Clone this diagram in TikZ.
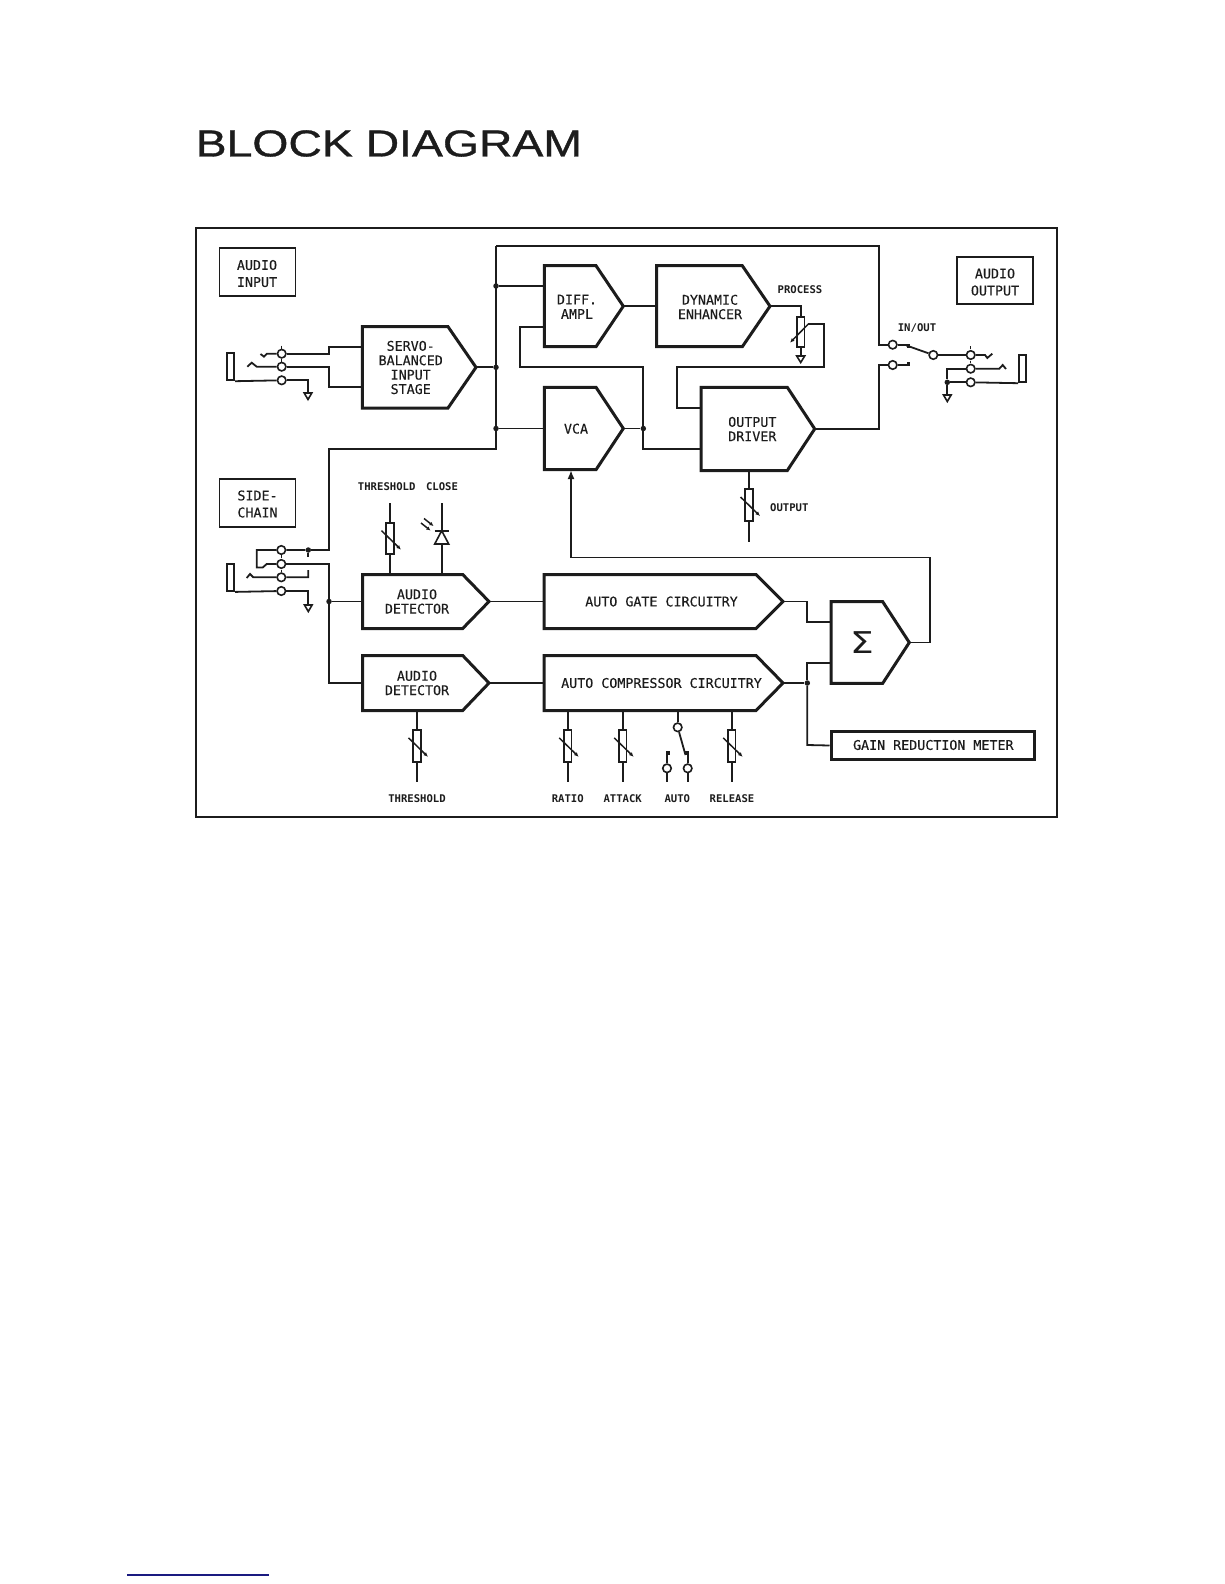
\documentclass[tikz,border=0pt]{standalone}
\usepackage{fontspec}
\usetikzlibrary{arrows.meta,fit}
\setmainfont{Liberation Sans}
\newfontfamily\titlefont[FakeBold=0.8]{Liberation Sans}
\newfontfamily\plotfont[FakeBold=0.25]{DejaVu Sans Mono}
\newfontfamily\plotboldfont{DejaVu Sans Mono Bold}
\newfontfamily\sigmafont{DejaVu Sans}
\definecolor{ink}{HTML}{1C1C1C}
\definecolor{rulenavy}{HTML}{1A1A80}
\tikzset{
  x=1pt,y=-1pt,
  wire/.style={draw=ink,line width=1.8pt,line join=miter},
  thick block/.style={draw=ink,line width=3pt,line join=miter},
  plain box/.style={draw=ink,line width=1.8pt,inner sep=0pt},
  big label/.style={text=ink,font=\plotfont\fontsize{13.33}{14.4}\selectfont,align=center,inner sep=0pt},
  small label/.style={text=ink,font=\plotboldfont\fontsize{10.6}{12}\selectfont,inner sep=0pt},
  contact/.style={circle,draw=ink,line width=1.6pt,fill=white,minimum size=8.5pt,inner sep=0pt},
  junction/.style={circle,fill=ink,minimum size=5.5pt,inner sep=0pt},
  potbody/.style={rectangle,draw=ink,line width=1.7pt,fill=white,minimum width=7.5pt,inner sep=0pt},
  wiper/.style={draw=ink,line width=1.5pt,-{Latex[length=4.5pt,width=4pt]}},
  gnd/.style={draw=ink,line width=1.6pt,fill=white},
  contactblob/.style={rectangle,fill=ink,minimum width=3pt,minimum height=4pt,inner sep=0pt},
}
% pentagon: name, xl, yt, xcorner, xtip, yb, textx, texty, text
\newcommand{\penta}[9]{%
  \draw[thick block] (#2,#3) -- (#4,#3) -- (#5,{(#3+#6)/2}) -- (#4,#6) -- (#2,#6) -- cycle;
  \node[inner sep=0pt,fit={(#2,#3)(#5,#6)}] (#1) {};
  \node[big label] (#1-t) at (#7,#8) {#9};
}
% potentiometer body: name, x, ytop, ybottom
\newcommand{\potm}[4]{%
  \path (#2,#3) coordinate (#1-a) (#2,#4) coordinate (#1-b);
  \node[potbody,fit=(#1-a)(#1-b),inner sep=0pt] (#1) {};
}
\newcommand{\potwiper}[1]{\draw[wiper] ([shift={(-8.5,-8)}]#1.center) -- ([shift={(11,11)}]#1.center);}
\newcommand{\groundsym}[1]{\draw[gnd] ([shift={(-3.8,0)}]#1) -- ([shift={(3.8,0)}]#1) -- ([shift={(0,6.5)}]#1) -- cycle;}
\begin{document}
\begin{tikzpicture}
\useasboundingbox (0,0) rectangle (1224,1584);
% title
\node[anchor=west,inner sep=0pt,text=ink] (title) at (195.5,143.5) {\scalebox{1.236}[1]{\titlefont\fontsize{37.5}{39}\selectfont BLOCK DIAGRAM}};
% frame
\node[draw=ink,line width=2pt,inner sep=0pt,fit={(196,228)(1056.7,816.7)}] (frame) {};
% bottom rule
\path (127,1575) coordinate (ruleA) (269,1575) coordinate (ruleB);
\draw[draw=rulenavy,line width=1.3pt] (ruleA) -- (ruleB);

% labels boxes
\node[plain box,fit={(219.5,248)(295.5,296)}] (inbox) {};
\node[big label] (inboxt) at (257,273.5) {AUDIO\\[2.6pt]INPUT};
\node[plain box,fit={(219.5,479)(295.5,526.7)}] (scbox) {};
\node[big label] (scboxt) at (257.5,504) {SIDE-\\[2.6pt]CHAIN};
\node[plain box,fit={(957.3,256.7)(1033,304.3)}] (outbox) {};
\node[big label] (outboxt) at (995,282) {AUDIO\\[2.6pt]OUTPUT};

% blocks
\penta{servo}{362.3}{326.7}{448}{476}{408}{410.7}{367.5}{SERVO-\\BALANCED\\INPUT\\STAGE}
\penta{diff}{544.3}{265.7}{596}{623.3}{346.7}{577}{306.7}{DIFF.\\AMPL}
\penta{dyn}{656.7}{265.7}{742.3}{770}{346.7}{710}{307}{DYNAMIC\\ENHANCER}
\penta{vca}{544.3}{387.3}{596}{623.3}{469.7}{576}{428.7}{VCA}
\penta{drv}{701}{387.3}{787.3}{814.7}{470.5}{752.3}{429}{OUTPUT\\DRIVER}
\penta{det1}{362.7}{574.5}{462.7}{489}{628.5}{417}{601.5}{AUDIO\\DETECTOR}
\penta{det2}{362.7}{655.5}{462.7}{489}{710.5}{417}{683}{AUDIO\\DETECTOR}
\penta{gate}{544}{574.5}{756}{783}{628.5}{661.5}{601.5}{AUTO GATE CIRCUITRY}
\penta{comp}{544}{655.5}{756}{783}{710.5}{661.5}{683}{AUTO COMPRESSOR CIRCUITRY}
\penta{sum}{831}{601.7}{882.7}{909.3}{683.3}{862}{642.5}{\scalebox{1.25}[1]{\sigmafont\fontsize{30}{30}\selectfont Σ}}
\node[draw=ink,line width=3pt,inner sep=0pt,fit={(831,731.7)(1034,759.3)}] (meter) {};
\node[big label] (metert) at (933.3,745) {GAIN REDUCTION METER};

% junctions
\coordinate (busT) at (496,246);
\coordinate (busB) at (496,449);
\node[junction] (j1) at (496,286) {};
\node[junction] (j2) at (496,367.35) {};
\node[junction] (j3) at (496,428.5) {};
\node[junction] (j4) at (643.3,428.5) {};
\node[junction] (j5) at (329,601.5) {};
\node[junction] (j6) at (807.3,683) {};
\node[junction] (j7) at (308.3,550) {};
\node[junction] (j8) at (947.3,382.3) {};

% bus wiring
\draw[wire] (busT) -- (busB) -- (329,449) -- (329,550) -- (j7);
\draw[wire] (j1) -- (diff.west |- j1);
\draw[wire] (servo.east) -- (j2);
\draw[wire] (j3) -- (vca.west |- j3);
\draw[wire] (diff.east) -- (dyn.west |- diff.east);
\draw[wire] (vca.east) -- (j4);
\draw[wire] (diff.west |- 0,326.7) -- (520,326.7) -- (520,367.3) -- (643.3,367.3) -- (j4) -- (643.3,449.3) -- (drv.west |- 0,449.3);
\draw[wire] (drv.west |- 0,408.3) -- (677.3,408.3) -- (677.3,367.3) -- (824.3,367.3) -- (824.3,324) -- (808.3,324);

% audio input jack
\node[plain box,fit={(226.7,353)(234.3,380.3)}] (jackI) {};
\node[contact] (ci1) at (281.7,353.7) {};
\node[contact] (ci2) at (281.7,366.7) {};
\node[contact] (ci3) at (281.7,380.3) {};
\coordinate (gi) at (308,393);
\draw[wire] (jackI.south east) -- (ci3);
\draw[wire] (ci3) -- (308,380.3) -- (gi);
\groundsym{gi}
\draw[wire] (ci1) -- (329.3,353.7) -- (329.3,346.7) -- (servo.west |- 0,346.7);
\draw[wire] (ci2) -- (329.3,366.7) -- (329.3,387.3) -- (servo.west |- 0,387.3);
\draw[wire] (ci1) -- (267,353.7) -- (264,356.7) -- (260.5,354);
\draw[wire] (ci2) -- (256.7,366.7) -- (251.7,362.7) -- (247.3,366.7);
\draw[ink,line width=1pt] (281.7,345.5) -- (281.7,348.5) (281.7,359) -- (281.7,361.5);

% side chain jack
\node[plain box,fit={(226.7,564)(234.3,591)}] (jackS) {};
\node[contact] (cs1) at (281.3,550) {};
\node[contact] (cs2) at (281.3,564) {};
\node[contact] (cs3) at (281.3,577.3) {};
\node[contact] (cs4) at (281.3,591) {};
\coordinate (gs) at (308.3,605);
\draw[wire] (j7) -- (cs1) -- (256.7,550) -- (256.7,567.5) -- (262.7,567.5) -- (266.7,564) -- (cs2);
\draw[wire] (j7) -- (308.3,557);
\draw[wire] (cs2) -- (329,564) -- (j5);
\draw[wire] (j5) -- (det1.west |- j5);
\draw[wire] (j5) -- (329,683) -- (det2.west);
\draw[wire] (308.3,570) -- (308.3,577.3) -- (cs3) -- (253.3,577.3) -- (250,574) -- (246.7,578);
\draw[wire] (jackS.south east) -- (cs4);
\draw[wire] (cs4) -- (308.3,591) -- (gs);
\groundsym{gs}
\draw[ink,line width=1pt] (281.3,555) -- (281.3,558) (281.3,569.5) -- (281.3,572);

% detector 1 controls
\node[small label] (lthr1) at (386.7,486.7) {THRESHOLD};
\node[small label] (lclose) at (442,486.7) {CLOSE};
\coordinate (thrT) at (390,503);
\draw[wire] (thrT) -- (390,574.3);
\potm{thr1}{390}{523.3}{554}
\potwiper{thr1}
\coordinate (cloT) at (441.7,503);
\draw[wire] (cloT) -- (441.7,574.3);
\draw[gnd] (441.7,530.7) -- (448.7,544) -- (434.7,544) -- cycle;
\draw[wire] (434.7,530.7) -- (448.7,530.7);
\draw[draw=ink,line width=1.5pt,-{Latex[length=4pt,width=4pt]}] (424,518.5) -- (433.5,526);
\draw[draw=ink,line width=1.5pt,-{Latex[length=4pt,width=4pt]}] (421,523) -- (430.5,530.5);

% process
\draw[wire] (dyn.east) -| (800.7,357.5);
\potm{proc}{800.7}{317.3}{347.3}
\draw[wiper] (808.3,324) -- (790,342.7);
\draw[gnd] (796.7,356) -- (804.7,356) -- (800.7,362.5) -- cycle;
\node[small label] (lproc) at (800,290) {PROCESS};

% output pot
\draw[wire] (drv.south -| 749,0) -- (749,541.7);
\potm{opot}{749}{489.3}{520.7}
\potwiper{opot}
\node[small label] (lout) at (789.3,507.7) {OUTPUT};

% in/out switch
\node[small label] (lio) at (917,328) {IN/OUT};
\node[contact] (ca) at (892.7,344.7) {};
\node[contact] (cb) at (892.7,365) {};
\node[contact] (cc) at (933.3,355) {};
\node[contact] (cd) at (970.7,355) {};
\node[contact] (ce) at (970.7,368.7) {};
\node[contact] (cf) at (970.7,382.3) {};
\draw[wire] (busT) -- (879.3,246) -- (879.3,344.7) -- (ca);
\draw[wire] (drv.east) -| (879.3,365) -- (cb);
\draw[wire] (ca) -- (906.7,344.7);
\draw[wire] (cb) -- (906.7,365);
\node[contactblob] at (908,345.5) {};
\node[contactblob] at (908,364) {};
\draw[wire] (906.5,345.5) -- (cc);
\draw[wire] (cc) -- (cd);
\draw[wire] (cd) -- (985,355) -- (987.3,358) -- (992.3,353.7);
\draw[wire] (ce) -- (999.3,368.7) -- (1002.7,365) -- (1006,369);
\draw[ink,line width=1pt] (970.7,346) -- (970.7,348.5) (970.7,360.5) -- (970.7,362.5);
\node[plain box,fit={(1019,355)(1026,382.3)}] (jackO) {};
\draw[wire] (cf) -- (jackO.south west);
\draw[wire] (ce) -- (947.3,368.7) -- (j8) -- (cf);
\coordinate (go) at (947.3,395);
\draw[wire] (j8) -- (go);
\groundsym{go}

% chain
\draw[wire] (det1.east) -- (gate.west |- det1.east);
\draw[wire] (det2.east) -- (comp.west |- det2.east);
\draw[wire] (gate.east) -- (807.3,601.5) -- (807.3,622) -- (sum.west |- 0,622);
\draw[wire] (comp.east) -- (j6);
\draw[wire] (j6) -- (807.3,662.7) -- (sum.west |- 0,662.7);
\draw[wire] (j6) -- (807.3,745) -- (meter.west);
\draw[wire,-{Latex[length=9pt,width=7pt]}] (sum.east) -- (930.3,642.5) -- (930.3,557.5) -- (571,557.5) -- (571,470);

% lower pots
\draw[wire] (417,710) -- (417,781.7);
\potm{thr2}{417}{730}{761.7}
\potwiper{thr2}
\draw[wire] (567.7,710) -- (567.7,781.7);
\potm{ratio}{567.7}{730}{761.7}
\potwiper{ratio}
\draw[wire] (622.7,710) -- (622.7,781.7);
\potm{attack}{622.7}{730}{761.7}
\potwiper{attack}
\draw[wire] (731.7,710) -- (731.7,781.7);
\potm{release}{731.7}{730}{761.7}
\potwiper{release}
% auto switch
\node[contact] (aT) at (677.7,727.3) {};
\node[contact] (aL) at (667,768.3) {};
\node[contact] (aR) at (687.7,768.3) {};
\draw[wire] (aT) -- (677.7,710);
\draw[wire] (aT) -- (685.5,755);
\draw[wire] (aL) -- (667,751);
\draw[wire] (aR) -- (687.7,751);
\draw[wire] (aL) -- (667,781.7);
\draw[wire] (aR) -- (687.7,781.7);
\node[contactblob] at (668.5,752.5) {};
\node[contactblob] at (686.5,753) {};
\node[small label] (l1) at (417,798.7) {THRESHOLD};
\node[small label] (l2) at (567.7,798.7) {RATIO};
\node[small label] (l3) at (622.7,798.7) {ATTACK};
\node[small label] (l4) at (677.3,798.7) {AUTO};
\node[small label] (l5) at (732,798.7) {RELEASE};
\end{tikzpicture}
\end{document}
